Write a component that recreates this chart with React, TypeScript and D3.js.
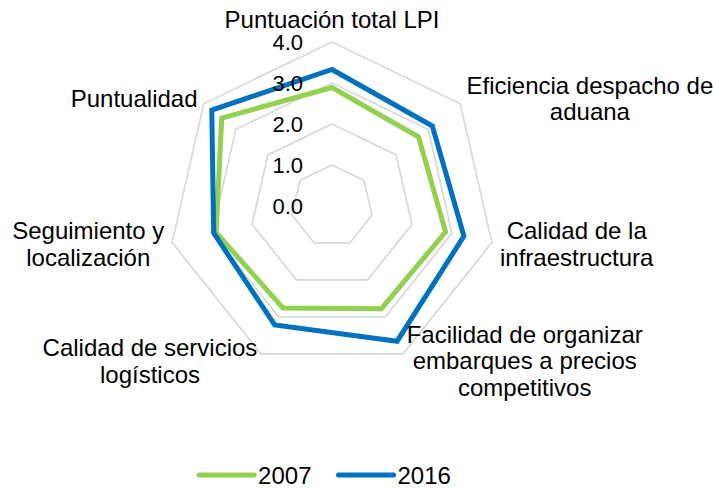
import React, { useEffect, useRef } from "react";
import * as d3 from "d3";

const categories: string[][] = [
  ["Puntuación total LPI"],
  ["Eficiencia despacho de", "aduana"],
  ["Calidad de la", "infraestructura"],
  ["Facilidad de organizar", "embarques a precios", "competitivos"],
  ["Calidad de servicios", "logísticos"],
  ["Seguimiento y", "localización"],
  ["Puntualidad"],
];
const values2007: number[] = [2.89, 2.7, 2.84, 2.78, 2.76, 2.9, 3.44];
const values2016: number[] = [3.33, 3.13, 3.3, 3.66, 3.22, 2.96, 3.75];
const seriesNames: string[] = ["2007", "2016"];
const seriesColors: string[] = ["#92D050", "#0070C0"];
const tickValues: number[] = [0, 1, 2, 3, 4];

const W = 713;
const H = 488;
const FONT = "'Liberation Sans', Arial, Helvetica, sans-serif";

export default function App() {
  const ref = useRef<SVGSVGElement | null>(null);

  useEffect(() => {
    const svg = d3.select(ref.current);
    svg.selectAll("*").remove();

    const cx = 332;
    const cy = 206;
    const R = 164;
    const n = categories.length;
    const r = d3.scaleLinear().domain([0, 4]).range([0, R]);
    const ang = (i: number) => -Math.PI / 2 + (i * 2 * Math.PI) / n;
    const pt = (i: number, rad: number): [number, number] => [
      cx + rad * Math.cos(ang(i)),
      cy + rad * Math.sin(ang(i)),
    ];

    const g = svg.append("g");
    const idx = d3.range(n);

    // grid rings
    tickValues
      .filter((t) => t > 0)
      .forEach((t) => {
        const ringLine = d3
          .line<number>()
          .x((i) => pt(i, r(t))[0])
          .y((i) => pt(i, r(t))[1])
          .curve(d3.curveLinearClosed);
        g.append("path")
          .attr("d", ringLine(idx) as string)
          .attr("fill", "none")
          .attr("stroke", "#D9D9D9")
          .attr("stroke-width", 1.75);
      });

    // series
    const series = [values2007, values2016];
    series.forEach((vals, s) => {
      const line = d3
        .line<number>()
        .x((i) => pt(i, r(vals[i]))[0])
        .y((i) => pt(i, r(vals[i]))[1])
        .curve(d3.curveLinearClosed);
      g.append("path")
        .attr("d", line(idx) as string)
        .attr("fill", "none")
        .attr("stroke", seriesColors[s])
        .attr("stroke-width", 5)
        .attr("stroke-linejoin", "miter");
    });

    // tick labels
    tickValues.forEach((t) => {
      g.append("text")
        .attr("x", cx - 29)
        .attr("y", cy - r(t))
        .attr("dy", "0.35em")
        .attr("text-anchor", "end")
        .attr("font-family", FONT)
        .attr("font-size", 22)
        .attr("fill", "#000")
        .text(d3.format(".1f")(t));
    });

    // category labels
    const fs = 24;
    const lh = 26.5;
    categories.forEach((lines, i) => {
      const a = ang(i);
      const [ax, ay] = pt(i, R + 8);
      const t = g
        .append("text")
        .attr("font-family", FONT)
        .attr("font-size", fs)
        .attr("fill", "#000")
        .attr("text-anchor", "middle");
      lines.forEach((ln, k) => {
        t.append("tspan").attr("x", 0).attr("y", k * lh).text(ln);
      });
      const bw = (t.node() as SVGTextElement).getBBox().width;
      const c = Math.cos(a);
      let x: number;
      let y: number;
      if (Math.abs(c) < 0.1) {
        x = ax;
        y = ay - 6 - (lines.length - 1) * lh;
      } else {
        x = c > 0 ? ax + bw / 2 : ax - bw / 2;
        y = ay - ((lines.length - 1) * lh) / 2 + 0.35 * fs;
      }
      t.attr("transform", `translate(${x},${y})`);
    });

    // legend
    const lfs = 24;
    const lineLen = 55;
    const gapTxt = 4;
    const gapItem = 27;
    const ly = 475;
    const lg = svg.append("g");
    const widths: number[] = [];
    const items = seriesNames.map((name, s) => {
      const it = lg.append("g");
      it.append("line")
        .attr("x1", 0)
        .attr("x2", lineLen)
        .attr("y1", 0)
        .attr("y2", 0)
        .attr("stroke", seriesColors[s])
        .attr("stroke-width", 5)
        .attr("stroke-linecap", "round");
      const tx = it
        .append("text")
        .attr("x", lineLen + gapTxt)
        .attr("y", 0)
        .attr("dy", "0.38em")
        .attr("font-family", FONT)
        .attr("font-size", lfs)
        .attr("fill", "#000")
        .text(name);
      widths.push((tx.node() as SVGTextElement).getBBox().width);
      return it;
    });
    const total =
      d3.sum(widths.map((w) => lineLen + gapTxt + w)) + gapItem * (widths.length - 1);
    let xPos = 325 - total / 2;
    items.forEach((it, s) => {
      it.attr("transform", `translate(${xPos},${ly})`);
      xPos += lineLen + gapTxt + widths[s] + gapItem;
    });
  }, []);

  return (
    <svg
      ref={ref}
      width={W}
      height={H}
      style={{ position: "absolute", left: 0, top: 0, background: "#fff" }}
    />
  );
}
